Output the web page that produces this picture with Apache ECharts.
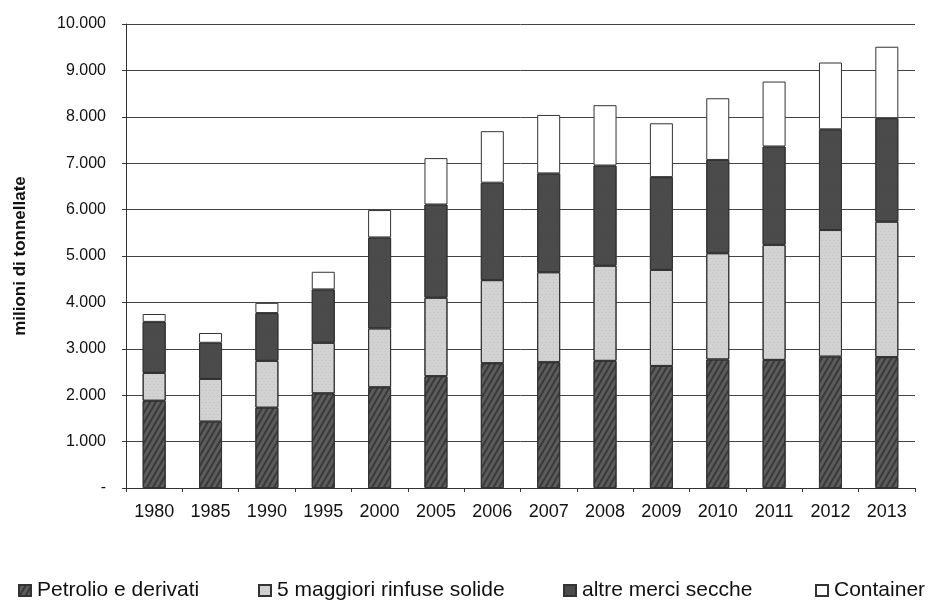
<!DOCTYPE html>
<html><head><meta charset="utf-8">
<script src="https://cdn.jsdelivr.net/npm/echarts@6/dist/echarts.min.js"></script>
<style>html,body{margin:0;padding:0;background:#fff}#c{width:929px;height:600px}</style>
</head><body><div id="c"></div>
<script>
const years = ['1980','1985','1990','1995','2000','2005','2006','2007','2008','2009','2010','2011','2012','2013'];
const petrolio = [1880, 1430, 1730, 2040, 2170, 2410, 2690, 2710, 2740, 2630, 2770, 2760, 2830, 2820];
const rinfuse  = [600, 920, 1010, 1090, 1270, 1690, 1790, 1940, 2050, 2070, 2290, 2480, 2730, 2920];
const altre    = [1100, 780, 1030, 1150, 1960, 2010, 2100, 2130, 2160, 2000, 2010, 2120, 2170, 2230];
const container= [170, 210, 220, 380, 590, 1000, 1110, 1260, 1300, 1160, 1330, 1400, 1440, 1540];
const names = ['Petrolio e derivati','5 maggiori rinfuse solide','altre merci secche','Container'];
const legendLeft = [13, 253, 558, 810];

const font = 'Liberation Sans, Arial, sans-serif';
const chart = echarts.init(document.getElementById('c'), null, {renderer:'canvas'});
const mk = (name, data, color, decal) => ({
  name, type:'bar', stack:'t', data, barWidth:23,
  itemStyle:{color, borderColor:'#333', borderWidth:1, decal},
});
chart.setOption({
  animation:false,
  grid:{left:126, right:14, top:24, bottom:112},
  legend: names.map((n,i) => ({
    top:575, left:legendLeft[i], itemWidth:12, itemHeight:11, itemGap:0,
    icon:'rect',
    textStyle:{fontFamily:font, fontSize:21, color:'#111', padding:[0,0,0,1]},
    data:[n]
  })),
  xAxis:{
    type:'category', data:years,
    axisLine:{lineStyle:{color:'#333'}},
    axisTick:{show:true, length:4, lineStyle:{color:'#333'}},
    axisLabel:{fontFamily:font, fontSize:18, color:'#111', margin:15}
  },
  yAxis:{
    type:'value', min:0, max:10000, interval:1000,
    name:'milioni di tonnellate', nameLocation:'middle', nameGap:97,
    nameTextStyle:{fontFamily:font, fontSize:17, fontWeight:'bold', color:'#111'},
    axisLine:{show:true, lineStyle:{color:'#333'}},
    axisTick:{show:true, length:4, lineStyle:{color:'#333'}},
    splitLine:{lineStyle:{color:'#444', width:1}},
    axisLabel:{fontFamily:font, fontSize:16, color:'#111', margin:20,
      formatter:v => v===0 ? '-' : v.toLocaleString('it-IT').replace(',', '.')}
  },
  series:[
    mk(names[0], petrolio, '#5c5c5c', {symbol:'rect', color:'rgba(30,30,30,0.55)', dashArrayX:[1,0], dashArrayY:[2,3], rotation:-Math.PI/3}),
    mk(names[1], rinfuse, '#d2d2d2', {symbol:'rect', color:'rgba(90,90,90,0.35)', symbolSize:0.5, dashArrayX:[[1,3],[0,1,2,1]], dashArrayY:[1,2]}),
    mk(names[2], altre, '#4a4a4a', {symbol:'rect', color:'rgba(140,140,140,0.35)', symbolSize:0.5, dashArrayX:[[1,3],[0,2,1,1]], dashArrayY:[1,2]}),
    mk(names[3], container, '#ffffff', null)
  ]
});
</script></body></html>
